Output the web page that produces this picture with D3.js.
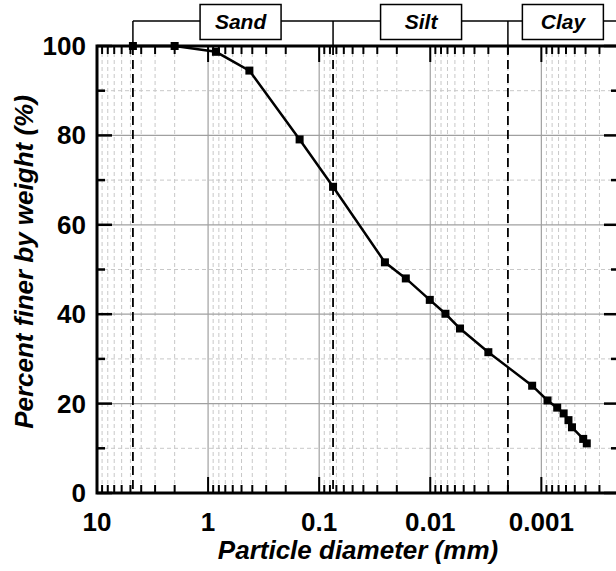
<!DOCTYPE html>
<html>
<head>
<meta charset="utf-8">
<script src="https://cdn.jsdelivr.net/npm/d3@7/dist/d3.min.js"></script>
<style>
  body { margin: 0; background: #fff; }
  svg { display: block; font-family: "Liberation Sans", Arial, sans-serif; }
</style>
</head>
<body>
<div id="chart"></div>
<script>
// grain size data (mm, % finer)
var diameters = [4.75, 2.0, 0.85, 0.425, 0.15, 0.075, 0.0256, 0.0166, 0.0101, 0.0073, 0.0054, 0.0030,
                 0.00121, 0.00088, 0.00072, 0.00063, 0.00057, 0.00053, 0.00042, 0.00039];
var percentFiner = [100, 100, 98.7, 94.5, 79.1, 68.5, 51.6, 48.0, 43.2, 40.1, 36.8, 31.5,
                    24.0, 20.7, 19.1, 17.8, 16.3, 14.7, 12.1, 11.1];

// soil class boundaries (mm) and label positions (mm)
var boundaries = [4.75, 0.075, 0.002];
var classNames = ["Sand", "Silt", "Clay"];
var classLabelAt = [0.51, 0.0121, 0.00064];

var xTickLabels = ["10", "1", "0.1", "0.01", "0.001"];
var yMajor = [0, 20, 40, 60, 80, 100];
var yMinor = [10, 30, 50, 70, 90];

var width = 616, height = 571;
var plotL = 97, plotR = 619, plotT = 46, plotB = 493;

var svg = d3.select("#chart").append("svg")
    .attr("width", width)
    .attr("height", height);

var x = d3.scaleLog().domain([10, 0.0002]).range([plotL, plotR]);
var y = d3.scaleLinear().domain([0, 100]).range([plotB, plotT]);

function isMajor(t) {
    return xTickLabels.some(function(m) { return Math.abs(+m - t) / +m < 1e-6; });
}
var allTicks = x.ticks();
var majorX = xTickLabels.map(Number);
var minorX = allTicks.filter(function(t) { return !isMajor(t); });

// ---- grid ----
var grid = svg.append("g");
grid.selectAll(".vminor").data(minorX).enter().append("line")
    .attr("x1", function(d) { return x(d); }).attr("x2", function(d) { return x(d); })
    .attr("y1", plotT).attr("y2", plotB)
    .style("stroke", "#c8c8c8").style("stroke-dasharray", "4,3").style("stroke-width", 1);
grid.selectAll(".hminor").data(yMinor).enter().append("line")
    .attr("x1", plotL).attr("x2", plotR)
    .attr("y1", function(d) { return y(d); }).attr("y2", function(d) { return y(d); })
    .style("stroke", "#c8c8c8").style("stroke-dasharray", "4,3").style("stroke-width", 1);
grid.selectAll(".vmajor").data(majorX).enter().append("line")
    .attr("x1", function(d) { return x(d); }).attr("x2", function(d) { return x(d); })
    .attr("y1", plotT).attr("y2", plotB)
    .style("stroke", "#a0a0a0").style("stroke-width", 1.2);
grid.selectAll(".hmajor").data(yMajor.slice(1, -1)).enter().append("line")
    .attr("x1", plotL).attr("x2", plotR)
    .attr("y1", function(d) { return y(d); }).attr("y2", function(d) { return y(d); })
    .style("stroke", "#a0a0a0").style("stroke-width", 1.2);

// ---- boundary dashed lines ----
svg.selectAll(".bound").data(boundaries).enter().append("line")
    .attr("x1", function(d) { return x(d); }).attr("x2", function(d) { return x(d); })
    .attr("y1", plotT).attr("y2", plotB)
    .style("stroke", "#000").style("stroke-width", 1.8).style("stroke-dasharray", "9,5");

// ---- class bracket above the plot ----
var bracketY = 21;
svg.append("line")
    .attr("x1", x(boundaries[0])).attr("x2", width)
    .attr("y1", bracketY).attr("y2", bracketY)
    .style("stroke", "#000").style("stroke-width", 1.5);
svg.selectAll(".bvert").data(boundaries).enter().append("line")
    .attr("x1", function(d) { return x(d); }).attr("x2", function(d) { return x(d); })
    .attr("y1", bracketY).attr("y2", plotT)
    .style("stroke", "#000").style("stroke-width", 1.5);

var boxW = 81, boxH = 35;
var boxes = svg.selectAll(".cls").data(classNames).enter().append("g")
    .attr("transform", function(d, i) { return "translate(" + x(classLabelAt[i]) + "," + bracketY + ")"; });
boxes.append("rect")
    .attr("x", -boxW / 2).attr("y", -boxH / 2 + 1)
    .attr("width", boxW).attr("height", boxH)
    .style("fill", "#fff").style("stroke", "#000").style("stroke-width", 1.5);
boxes.append("text")
    .attr("text-anchor", "middle").attr("y", 8)
    .style("font-size", "21px").style("font-weight", "bold").style("font-style", "italic")
    .text(function(d) { return d; });

// ---- axes ----
var axes = svg.append("g");
// x ticks bottom and top (inward)
axes.selectAll(".xtb").data(allTicks).enter().append("line")
    .attr("x1", function(d) { return x(d); }).attr("x2", function(d) { return x(d); })
    .attr("y1", plotB)
    .attr("y2", function(d) { return plotB - (isMajor(d) ? 16 : 8); })
    .style("stroke", "#000").style("stroke-width", 2);
axes.selectAll(".xtt").data(allTicks).enter().append("line")
    .attr("x1", function(d) { return x(d); }).attr("x2", function(d) { return x(d); })
    .attr("y1", plotT)
    .attr("y2", function(d) { return plotT + (isMajor(d) ? 16 : 8); })
    .style("stroke", "#000").style("stroke-width", 2);
// y ticks left and right (inward)
var yTicks = yMajor.concat(yMinor);
axes.selectAll(".ytl").data(yTicks).enter().append("line")
    .attr("x1", plotL)
    .attr("x2", function(d) { return plotL + (d % 20 === 0 ? 15 : 8); })
    .attr("y1", function(d) { return y(d); }).attr("y2", function(d) { return y(d); })
    .style("stroke", "#000").style("stroke-width", 2.5);
axes.selectAll(".ytr").data(yTicks).enter().append("line")
    .attr("x1", plotR)
    .attr("x2", function(d) { return plotR - (d % 20 === 0 ? 15 : 8); })
    .attr("y1", function(d) { return y(d); }).attr("y2", function(d) { return y(d); })
    .style("stroke", "#000").style("stroke-width", 2.5);

axes.append("rect")
    .attr("x", plotL).attr("y", plotT)
    .attr("width", plotR - plotL).attr("height", plotB - plotT)
    .style("fill", "none").style("stroke", "#000").style("stroke-width", 3);

// tick labels
axes.selectAll(".xl").data(xTickLabels).enter().append("text")
    .attr("x", function(d) { return x(+d); }).attr("y", 531)
    .attr("text-anchor", "middle")
    .style("font-size", "26px").style("font-weight", "bold")
    .text(function(d) { return d; });
axes.selectAll(".yl").data(yMajor).enter().append("text")
    .attr("x", 86).attr("y", function(d) { return y(d) + 9; })
    .attr("text-anchor", "end")
    .style("font-size", "26px").style("font-weight", "bold")
    .text(function(d) { return d; });

// axis titles
svg.append("text")
    .attr("x", 358).attr("y", 559)
    .attr("text-anchor", "middle")
    .style("font-size", "26px").style("font-weight", "bold").style("font-style", "italic")
    .text("Particle diameter (mm)");
svg.append("text")
    .attr("transform", "translate(33," + 262 + ") rotate(-90)")
    .attr("text-anchor", "middle")
    .style("font-size", "26px").style("font-weight", "bold").style("font-style", "italic")
    .text("Percent finer by weight (%)");

// ---- the curve ----
var pts = diameters.map(function(d, i) { return { d: d, p: percentFiner[i] }; });
var line = d3.line()
    .x(function(d) { return x(d.d); })
    .y(function(d) { return y(d.p); });
svg.append("path")
    .datum(pts)
    .attr("d", line)
    .style("fill", "none").style("stroke", "#000").style("stroke-width", 2.5);
var ms = 8;
svg.selectAll(".pt").data(pts).enter().append("rect")
    .attr("x", function(d) { return x(d.d) - ms / 2; })
    .attr("y", function(d) { return y(d.p) - ms / 2; })
    .attr("width", ms).attr("height", ms)
    .style("fill", "#000");
</script>
</body>
</html>
